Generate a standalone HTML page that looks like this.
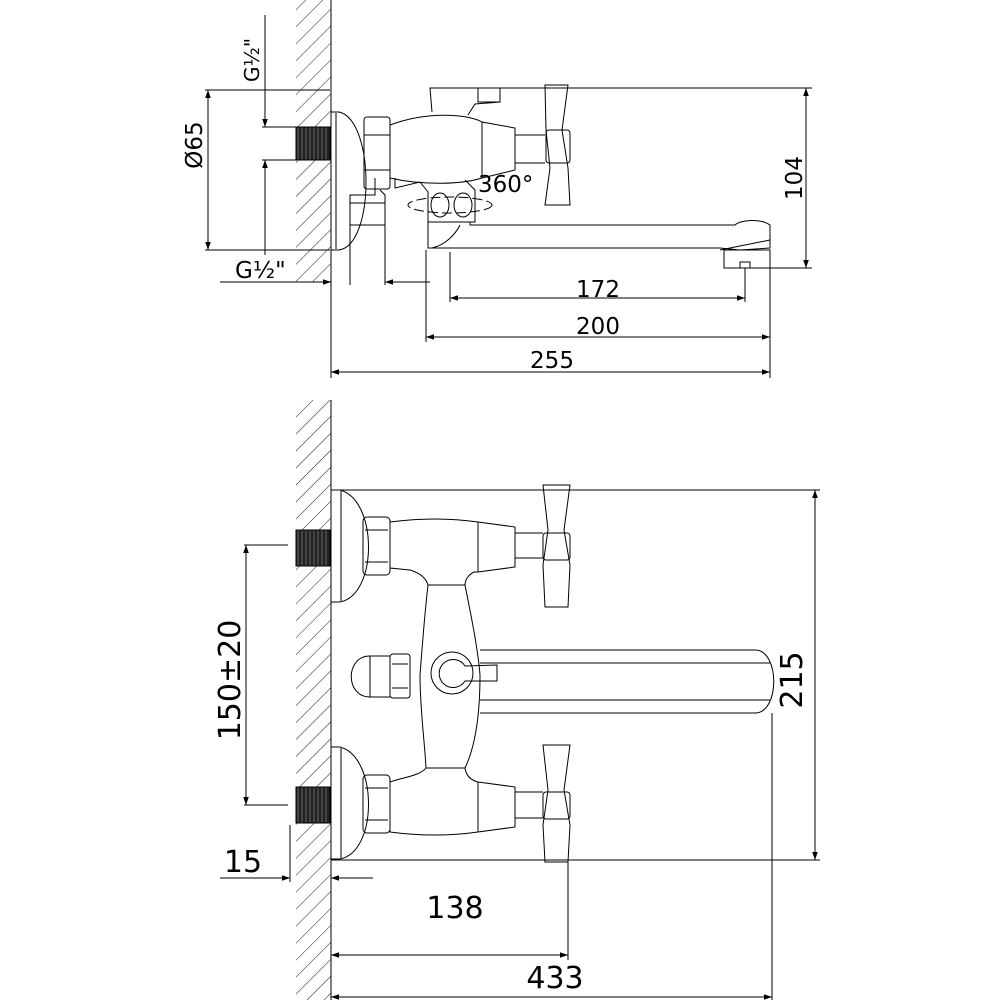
<!DOCTYPE html>
<html><head><meta charset="utf-8"><style>
html,body{margin:0;padding:0;background:#fff}
svg{display:block}
text{font-family:"DejaVu Sans","Liberation Sans",sans-serif;fill:#000}
</style></head><body>
<svg width="1000" height="1000" viewBox="0 0 1000 1000" xmlns="http://www.w3.org/2000/svg">
<defs>
<pattern id="h" patternUnits="userSpaceOnUse" width="12" height="12" patternTransform="rotate(45)">
<line x1="0" y1="0" x2="0" y2="12" stroke="#000" stroke-width="0.9"/>
</pattern>
<marker id="a" viewBox="0 0 10 10" refX="10" refY="5" markerWidth="12" markerHeight="8" orient="auto-start-reverse" markerUnits="userSpaceOnUse">
<path d="M0,1.5 L10,5 L0,8.5 Z" fill="#000"/>
</marker>
<pattern id="t" patternUnits="userSpaceOnUse" width="4" height="4">
<rect width="4" height="4" fill="#222"/><line x1="2" y1="0" x2="2" y2="4" stroke="#777" stroke-width="0.8"/>
</pattern>
</defs>
<g fill="none" stroke="#000" stroke-width="1">
<!-- TOP VIEW -->
<rect x="296" y="0" width="35" height="282" fill="url(#h)" stroke="none"/>
<line x1="331" y1="0" x2="331" y2="282"/>
<rect x="296" y="127" width="34" height="33" fill="url(#t)"/>
<path d="M331,112 h8 C375,120 375,245 339,250 h-8"/>
<line x1="336" y1="113" x2="336" y2="249"/>
<line x1="205" y1="90" x2="330" y2="90"/>
<line x1="205" y1="250" x2="330" y2="250"/>
<line x1="208" y1="90" x2="208" y2="250" marker-start="url(#a)" marker-end="url(#a)"/>
<line x1="262" y1="127" x2="296" y2="127"/>
<line x1="262" y1="160" x2="296" y2="160"/>
<line x1="265" y1="15" x2="265" y2="127" marker-end="url(#a)"/>
<line x1="265" y1="255" x2="265" y2="160" marker-end="url(#a)"/>
<rect x="364" y="117" width="26" height="72" rx="3"/>
<line x1="364" y1="135" x2="390" y2="135"/><line x1="364" y1="170" x2="390" y2="170"/>
<path d="M390,125 C430,110 470,115 482,122 L515,128 L515,170 L482,178 C460,185 420,185 390,178 Z"/>
<line x1="482" y1="122" x2="482" y2="178"/>
<line x1="515" y1="135" x2="545" y2="135"/><line x1="515" y1="163" x2="545" y2="163"/>
<path d="M432,112 L430,88 L500,88 L500,102 L475,104 L468,115"/>
<rect x="478" y="88" width="22" height="14"/>
<path d="M545,85 L568,85 L562,130 L568,168 L570,205 L545,205 L550,168 L546,130 Z"/>
<rect x="546" y="130" width="24" height="33" rx="3"/>
<path d="M375,178 L375,195 L350,195 L350,225 L385,225 L385,195 L380,190"/>
<line x1="350" y1="203" x2="385" y2="203"/>
<path d="M395,178 L395,188 L420,182 L428,192 L428,222 L475,222 L475,190 L465,180"/>
<ellipse cx="440" cy="205" rx="9" ry="12"/><ellipse cx="463" cy="205" rx="9" ry="12"/>
<ellipse cx="450" cy="205" rx="42" ry="8" stroke-dasharray="10,4"/>
<path d="M428,222 L428,248 L720,248 L740,250 L770,248 L770,225 C760,218 740,220 735,225 L470,225 L470,222"/>
<path d="M432,248 C445,245 455,235 460,225"/>
<path d="M720,250 L770,240"/>
<rect x="724" y="250" width="46" height="18"/>
<rect x="740" y="262" width="10" height="6"/>
<line x1="500" y1="88" x2="812" y2="88"/>
<line x1="770" y1="268" x2="812" y2="268"/>
<line x1="806" y1="88" x2="806" y2="268" marker-start="url(#a)" marker-end="url(#a)"/>
<line x1="350" y1="225" x2="350" y2="285"/>
<line x1="385" y1="225" x2="385" y2="285"/>
<line x1="220" y1="282" x2="331" y2="282" marker-end="url(#a)"/>
<line x1="430" y1="282" x2="385" y2="282" marker-end="url(#a)"/>
<line x1="450" y1="252" x2="450" y2="302"/>
<line x1="745" y1="268" x2="745" y2="302"/>
<line x1="426" y1="250" x2="426" y2="342"/>
<line x1="770" y1="268" x2="770" y2="378"/>
<line x1="331" y1="282" x2="331" y2="378"/>
<line x1="450" y1="298" x2="745" y2="298" marker-start="url(#a)" marker-end="url(#a)"/>
<line x1="426" y1="337" x2="770" y2="337" marker-start="url(#a)" marker-end="url(#a)"/>
<line x1="331" y1="372" x2="770" y2="372" marker-start="url(#a)" marker-end="url(#a)"/>

<!-- BOTTOM VIEW -->
<rect x="296" y="400" width="35" height="600" fill="url(#h)" stroke="none"/>
<line x1="331" y1="400" x2="331" y2="1000"/>
<rect x="296" y="530" width="34" height="36" fill="url(#t)"/>
<rect x="296" y="787" width="34" height="36" fill="url(#t)"/>
<path d="M331,490 h9 C378,500 378,595 340,602 h-9"/>
<line x1="341" y1="491" x2="341" y2="601"/>
<path d="M331,747 h9 C378,757 378,852 340,859 h-9"/>
<line x1="341" y1="748" x2="341" y2="858"/>
<rect x="363" y="517" width="27" height="58" rx="4"/>
<line x1="365" y1="530" x2="388" y2="530"/><line x1="365" y1="562" x2="388" y2="562"/>
<path d="M390,522 C420,518 450,518 478,522 L515,527 L515,567 L478,572 L474,572 C468,575 465,580 465,585 L428,585 C426,578 420,573 410,570 L390,568 Z"/>
<line x1="478" y1="522" x2="478" y2="572"/>
<line x1="515" y1="533" x2="543" y2="533"/><line x1="515" y1="558" x2="543" y2="558"/>
<path d="M543,485 L570,485 L564,530 L570,565 L568,607 L545,607 L543,565 L548,530 Z"/>
<rect x="543" y="533" width="27" height="27" rx="3"/>
<rect x="363" y="775" width="27" height="58" rx="4"/>
<line x1="365" y1="788" x2="388" y2="788"/><line x1="365" y1="820" x2="388" y2="820"/>
<path d="M390,782 C400,778 420,776 426,768 L465,768 C466,775 470,780 478,782 L515,787 L515,827 L478,832 C450,836 420,836 390,832 Z"/>
<line x1="478" y1="782" x2="478" y2="832"/>
<line x1="515" y1="792" x2="543" y2="792"/><line x1="515" y1="818" x2="543" y2="818"/>
<path d="M543,745 L570,745 L564,790 L570,825 L568,862 L545,862 L543,825 L548,790 Z"/>
<rect x="543" y="792" width="27" height="27" rx="3"/>
<path d="M428,585 C424,620 422,650 420,675 C420,710 425,745 426,768"/>
<path d="M465,585 C472,620 478,650 480,675 C480,710 476,745 465,768"/>
<path d="M480,650 L755,650 C780,650 780,713 755,713 L480,713"/>
<line x1="480" y1="663" x2="770" y2="663"/>
<line x1="480" y1="700" x2="770" y2="700"/>
<path d="M390,656 L370,656 C345,656 345,697 370,697 L390,697"/>
<line x1="370" y1="656" x2="370" y2="697"/>
<rect x="390" y="654" width="20" height="44" rx="3"/>
<line x1="392" y1="664" x2="408" y2="664"/><line x1="392" y1="688" x2="408" y2="688"/>
<circle cx="452" cy="673" r="21"/>
<path d="M465,666 A14,14 0 1 0 465,681 L497,681 L497,665 Z"/>
<line x1="331" y1="490" x2="820" y2="490"/>
<line x1="331" y1="860" x2="820" y2="860"/>
<line x1="815" y1="490" x2="815" y2="860" marker-start="url(#a)" marker-end="url(#a)"/>
<line x1="244" y1="545" x2="288" y2="545"/>
<line x1="244" y1="805" x2="288" y2="805"/>
<line x1="246" y1="545" x2="246" y2="805" marker-start="url(#a)" marker-end="url(#a)"/>
<line x1="290" y1="825" x2="290" y2="882"/>
<line x1="220" y1="878" x2="290" y2="878" marker-end="url(#a)"/>
<line x1="373" y1="878" x2="331" y2="878" marker-end="url(#a)"/>
<line x1="568" y1="862" x2="568" y2="960"/>
<line x1="772" y1="713" x2="772" y2="1000"/>
<line x1="331" y1="955" x2="568" y2="955" marker-start="url(#a)" marker-end="url(#a)"/>
<line x1="331" y1="997" x2="772" y2="997" marker-start="url(#a)" marker-end="url(#a)"/>
</g>
<g font-size="23">
<text x="598" y="297" text-anchor="middle">172</text>
<text x="598" y="334" text-anchor="middle">200</text>
<text x="552" y="368" text-anchor="middle">255</text>
<text x="478" y="192">360°</text>
<text x="235" y="278">G½"</text>
<text transform="translate(202,145) rotate(-90)" text-anchor="middle">Ø65</text>
<text transform="translate(265,60) rotate(-90)" text-anchor="middle" font-size="20" dy="-6">G½"</text>
<text transform="translate(802,178) rotate(-90)" text-anchor="middle">104</text>
</g>
<g font-size="30">
<text x="243" y="872" text-anchor="middle">15</text>
<text x="455" y="918" text-anchor="middle">138</text>
<text x="555" y="988" text-anchor="middle">433</text>
<text transform="translate(240,680) rotate(-90)" text-anchor="middle">150±20</text>
<text transform="translate(802,680) rotate(-90)" text-anchor="middle">215</text>
</g>
</svg>
</body></html>
